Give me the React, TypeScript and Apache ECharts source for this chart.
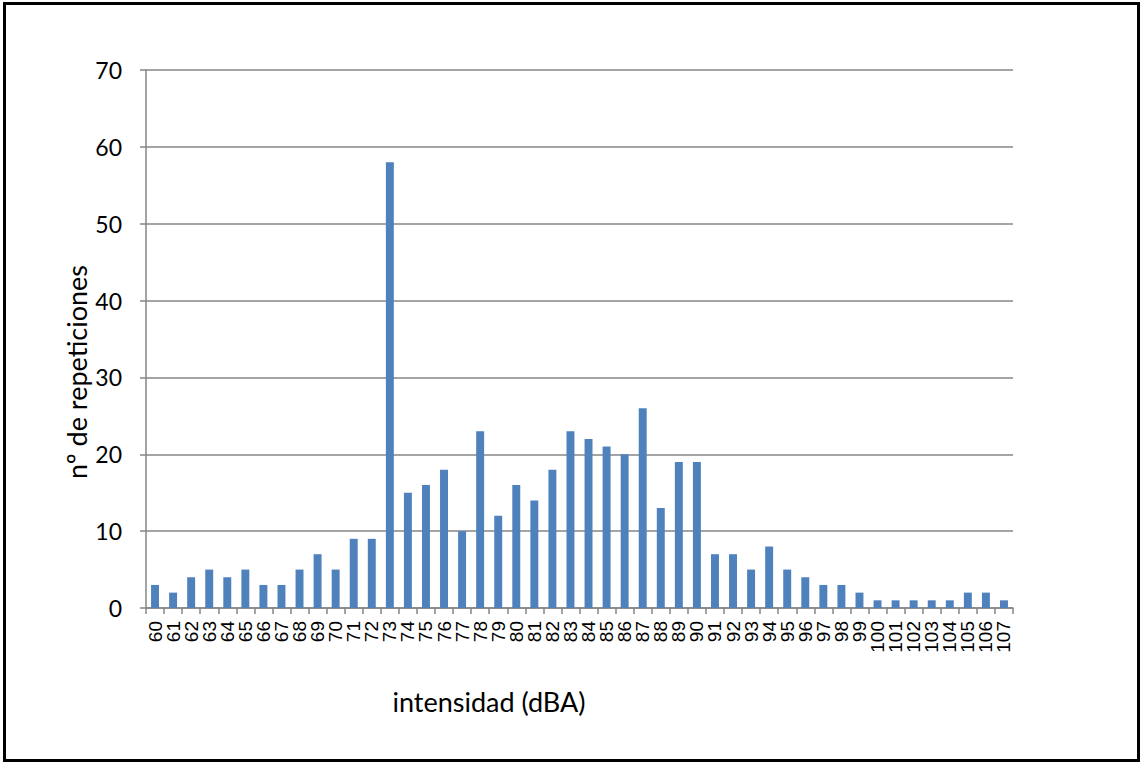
import React, { useEffect, useRef } from "react";
import * as echarts from "echarts";

const categories = [
  "60","61","62","63","64","65","66","67","68","69","70","71","72","73","74","75",
  "76","77","78","79","80","81","82","83","84","85","86","87","88","89","90","91",
  "92","93","94","95","96","97","98","99","100","101","102","103","104","105","106","107",
];
const repeticiones = [
  3, 2, 4, 5, 4, 5, 3, 3, 5, 7, 5, 9, 9, 58, 15, 16,
  18, 10, 23, 12, 16, 14, 18, 23, 22, 21, 20, 26, 13, 19, 19, 7,
  7, 5, 8, 5, 4, 3, 3, 2, 1, 1, 1, 1, 1, 2, 2, 1,
];
const xTitle = "intensidad (dBA)";
const yTitle = "nº de repeticiones";

export default function App() {
  const ref = useRef<HTMLDivElement>(null);
  useEffect(() => {
    if (!ref.current) return;
    const chart = echarts.init(ref.current, null, { renderer: "svg" });
    chart.setOption({
      animation: false,
      backgroundColor: "#ffffff",
      grid: { left: 146, right: 129, top: 70, bottom: 155 },
      xAxis: {
        type: "category",
        data: categories,
        boundaryGap: true,
        axisLine: { show: true, lineStyle: { color: "#868686", width: 1.5 } },
        axisTick: { show: true, alignWithLabel: false, length: 6, lineStyle: { color: "#868686", width: 1.5 } },
        axisLabel: {
          rotate: 90,
          interval: 0,
          margin: 13,
          fontSize: 19,
          color: "#000",
          fontFamily: "Liberation Sans, Arial, sans-serif",
        },
      },
      yAxis: {
        type: "value",
        min: 0,
        max: 70,
        interval: 10,
        axisLine: { show: true, lineStyle: { color: "#868686", width: 1.5 } },
        axisTick: { show: true, length: 6, lineStyle: { color: "#868686", width: 1.5 } },
        splitLine: { show: true, lineStyle: { color: "#868686", width: 1.5 } },
        axisLabel: {
          fontSize: 23,
          color: "#000",
          margin: 24,
          fontFamily: "Lato, Carlito, sans-serif",
        },
      },
      series: [
        {
          type: "bar",
          data: repeticiones,
          barCategoryGap: "56%",
          itemStyle: { color: "#4F81BD" },
        },
      ],
      graphic: [
        {
          type: "rect",
          shape: { x: 4.5, y: 3.5, width: 1134, height: 757 },
          style: { fill: "none", stroke: "#000", lineWidth: 3 },
          silent: true,
        },
        {
          type: "text",
          x: 489,
          y: 701,
          style: {
            text: xTitle,
            fontSize: 27,
            fill: "#000",
            fontFamily: "Lato, Carlito, sans-serif",
            textAlign: "center",
            textVerticalAlign: "middle",
          },
        },
        {
          type: "text",
          x: 76,
          y: 372,
          rotation: Math.PI / 2,
          style: {
            text: yTitle,
            fontSize: 27,
            fill: "#000",
            fontFamily: "Lato, Carlito, sans-serif",
            textAlign: "center",
            textVerticalAlign: "middle",
          },
        },
      ],
    });
    return () => chart.dispose();
  }, []);
  return (
    <div
      ref={ref}
      style={{ position: "absolute", left: 0, top: 0, width: 1142, height: 763 }}
    />
  );
}
